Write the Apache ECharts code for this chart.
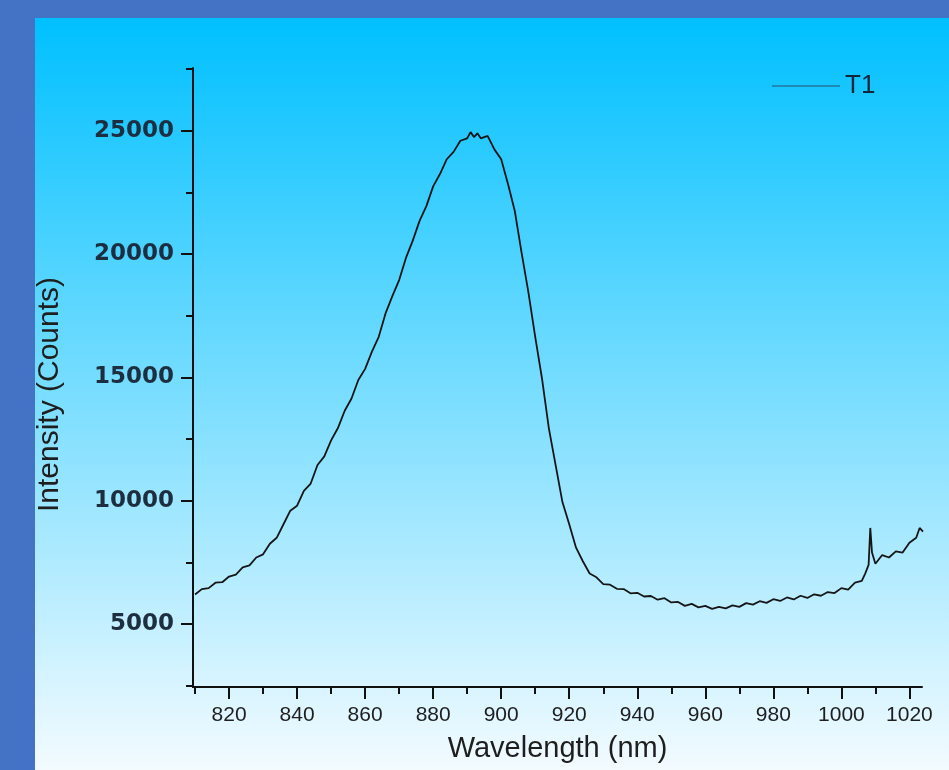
<!DOCTYPE html>
<html>
<head>
<meta charset="utf-8">
<title>T1 spectrum</title>
<script src="https://cdn.jsdelivr.net/npm/echarts@6/dist/echarts.min.js"></script>
<style>
  html, body { margin: 0; padding: 0; background: #4472c4; }
  #chart { width: 949px; height: 770px; }
</style>
</head>
<body>
<div id="chart"></div>
<script>
// --- data ---
const wavelengths = [
  810, 812, 814, 816, 818, 820, 822, 824, 826, 828,
  830, 832, 834, 836, 838, 840, 842, 844, 846, 848,
  850, 852, 854, 856, 858, 860, 862, 864, 866, 868,
  870, 872, 874, 876, 878, 880, 882, 884, 886, 888,
  890, 891, 892, 893, 894, 896, 898, 900, 902, 904,
  906, 908, 910, 912, 914, 916, 918, 920, 922, 924,
  926, 928, 930, 932, 934, 936, 938, 940, 942, 944,
  946, 948, 950, 952, 954, 956, 958, 960, 962, 964,
  966, 968, 970, 972, 974, 976, 978, 980, 982, 984,
  986, 988, 990, 992, 994, 996, 998, 1000, 1002, 1004,
  1006, 1007, 1008, 1008.5, 1009, 1010, 1012, 1014, 1016, 1018,
  1020, 1022, 1023, 1024
];
const counts = [
  6200, 6420, 6460, 6680, 6700, 6930, 7010, 7300, 7380, 7700,
  7830, 8260, 8500, 9050, 9600, 9800, 10400, 10700, 11450, 11800,
  12450, 12950, 13650, 14150, 14900, 15350, 16050, 16650, 17600, 18300,
  18950, 19850, 20550, 21350, 21950, 22750, 23250, 23850, 24150, 24600,
  24700, 24950, 24750, 24900, 24700, 24800, 24250, 23850, 22850, 21750,
  20050, 18450, 16650, 14950, 12950, 11450, 9950, 9050, 8100, 7550,
  7050, 6900, 6620, 6600, 6430, 6420, 6250, 6270, 6120, 6140,
  5990, 6050, 5880, 5900, 5740, 5820, 5680, 5740, 5620, 5700,
  5640, 5760, 5700, 5850, 5790, 5930, 5860, 6010, 5940, 6080,
  6000, 6150, 6060, 6210, 6150, 6300, 6260, 6460, 6400, 6680,
  6750, 7050, 7400, 8900, 7900, 7450, 7800, 7700, 7950, 7900,
  8300, 8500, 8900, 8750
];
const xMajorTicks = [820, 840, 860, 880, 900, 920, 940, 960, 980, 1000, 1020];
const xMinorTicks = [810, 830, 850, 870, 890, 910, 930, 950, 970, 990, 1010];
const yMajorTicks = [5000, 10000, 15000, 20000, 25000];
const yMinorTicks = [2500, 7500, 12500, 17500, 22500, 27500];

const X_MIN = 809.4, X_MAX = 1023.7;
const Y_MIN = 2450, Y_MAX = 27550;

const chart = echarts.init(document.getElementById('chart'), null, { renderer: 'canvas' });

const axisColor = '#111';
const plain = v => String(v);

chart.setOption({
  backgroundColor: '#4472c4',
  animation: false,
  graphic: [{
    type: 'rect',
    z: -100,
    shape: { x: 35, y: 18, width: 914, height: 752 },
    style: {
      fill: new echarts.graphic.LinearGradient(0, 0, 0, 1, [
        { offset: 0, color: '#00c0ff' },
        { offset: 1, color: '#f3fbff' }
      ])
    }
  }],
  legend: {
    left: 767,
    top: 68,
    itemWidth: 68,
    itemHeight: 14,
    itemGap: 10,
    textStyle: { fontFamily: 'Liberation Sans', fontSize: 26, color: '#10263a' },
    data: [{ name: 'T1', icon: 'path://M0,6 L100,6 L100,7.5 L0,7.5 Z', itemStyle: { color: '#24506f' } }]
  },
  grid: { left: 193, right: 27, top: 68, bottom: 83 },
  xAxis: [{
    type: 'value', min: X_MIN, max: X_MAX, position: 'bottom',
    name: 'Wavelength (nm)', nameLocation: 'middle', nameGap: 47,
    nameTextStyle: { fontFamily: 'Liberation Sans', fontSize: 29, color: '#1e1e1e' },
    axisLine: { show: true, lineStyle: { color: axisColor, width: 2 } },
    axisTick: { show: true, customValues: xMajorTicks, length: 12, lineStyle: { color: axisColor, width: 2 } },
    axisLabel: { customValues: xMajorTicks, formatter: plain, margin: 18, fontFamily: 'Liberation Sans', fontSize: 21, color: '#1e1e1e' },
    splitLine: { show: false }
  }, {
    type: 'value', min: X_MIN, max: X_MAX, position: 'bottom',
    axisLine: { show: false },
    axisTick: { show: true, customValues: xMinorTicks, length: 7, lineStyle: { color: axisColor, width: 2 } },
    axisLabel: { show: false },
    splitLine: { show: false }
  }],
  yAxis: [{
    type: 'value', min: Y_MIN, max: Y_MAX, position: 'left',
    name: 'Intensity (Counts)', nameLocation: 'middle', nameGap: 128,
    nameTextStyle: { fontFamily: 'Liberation Sans', fontSize: 30, color: '#1e1e1e', padding: [0, 34, 0, 0] },
    axisLine: { show: true, lineStyle: { color: axisColor, width: 2 } },
    axisTick: { show: true, customValues: yMajorTicks, length: 12, lineStyle: { color: axisColor, width: 2 } },
    axisLabel: { customValues: yMajorTicks, formatter: plain, margin: 19, fontFamily: 'DejaVu Sans', fontWeight: 'bold', fontSize: 23, color: '#1c2e40' },
    splitLine: { show: false }
  }, {
    type: 'value', min: Y_MIN, max: Y_MAX, position: 'left',
    axisLine: { show: false },
    axisTick: { show: true, customValues: yMinorTicks, length: 7, lineStyle: { color: axisColor, width: 2 } },
    axisLabel: { show: false },
    splitLine: { show: false }
  }],
  series: [{
    name: 'T1',
    type: 'line',
    xAxisIndex: 0,
    yAxisIndex: 0,
    symbol: 'none',
    lineStyle: { color: '#161616', width: 1.8 },
    data: wavelengths.map((w, i) => [w, counts[i]])
  }]
});
</script>
</body>
</html>
